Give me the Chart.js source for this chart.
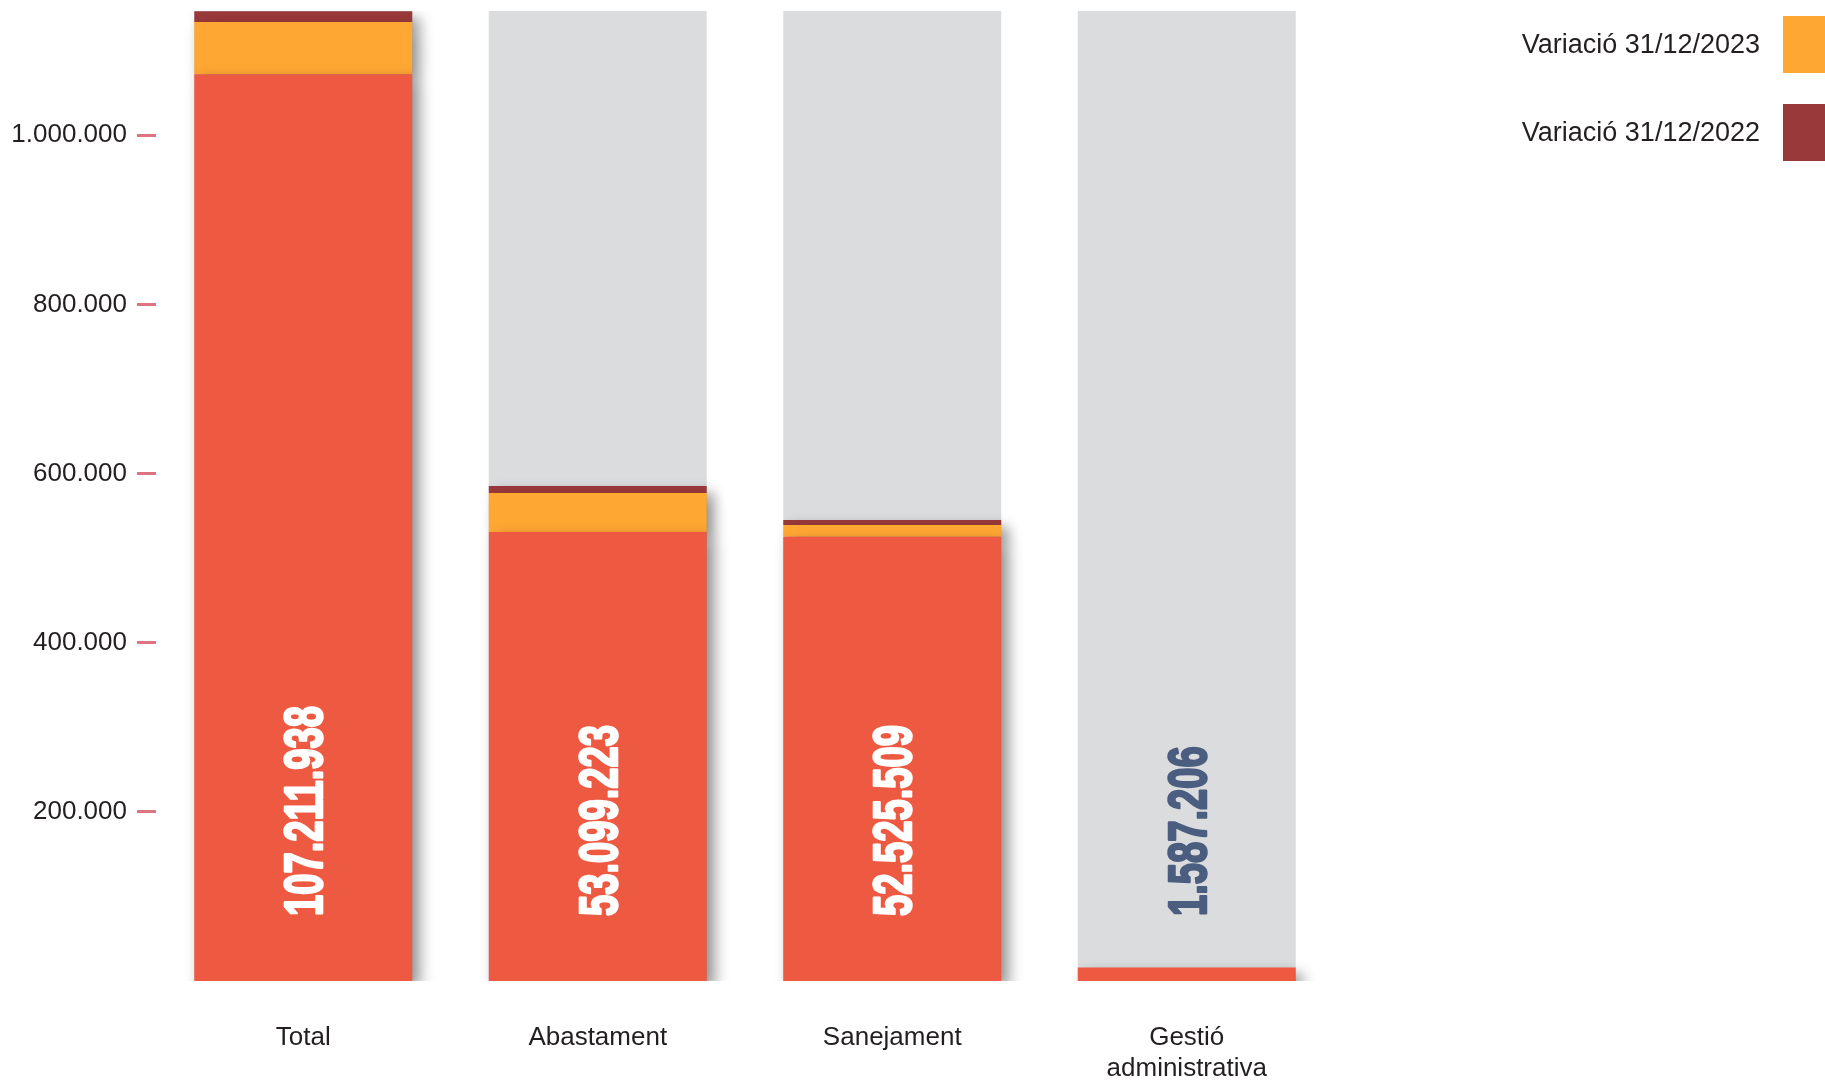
<!DOCTYPE html>
<html>
<head>
<meta charset="utf-8">
<script src="https://cdn.jsdelivr.net/npm/chart.js@4.4.1/dist/chart.umd.min.js"></script>
<style>
  body { margin: 0; background: #ffffff; }
  #wrap { position: relative; width: 1825px; height: 1080px; }
  .legend-item { position: absolute; right: 0; height: 57px; display: flex; align-items: center;
    font-family: "Liberation Sans", Arial, sans-serif; font-size: 27px; color: #231f20; }
  .legend-item span.box { display: inline-block; width: 42px; height: 57px; margin-left: 23px; }
</style>
</head>
<body>
<div id="wrap">
  <canvas id="deuteChart"></canvas>
  <div class="legend-item" style="top:16px"><span>Variació 31/12/2023</span><span class="box" style="background:#ffa733"></span></div>
  <div class="legend-item" style="top:104px"><span>Variació 31/12/2022</span><span class="box" style="background:#99393a"></span></div>
</div>
<script>
// categories and values (y axis in hundreds of euros)
const categories = ['Total', 'Abastament', 'Sanejament', ['Gestió', 'administrativa']];
const baseValues = [1072119, 530992, 525255, 15872];
const var2023 = [62000, 46000, 14000, 0];
const var2022 = [12500, 8300, 5900, 0];
const backgroundValues = [1147000, 1147000, 1147000, 1147000];
const valueLabels = [107211938, 53099223, 52525509, 1587206];
const yTickValues = [200000, 400000, 600000, 800000, 1000000];
const yMax = 1147000;

const labelColors = ['#ffffff', '#ffffff', '#ffffff', '#4b5e80'];

function formatDots(v) {
    return String(v).replace(/\B(?=(\d{3})+(?!\d))/g, '.');
}

// soft drop shadow under the coloured stacks
const shadowPlugin = {
    id: 'barShadow',
    beforeDatasetDraw(chart, args) {
        if (args.index > 2) return;
        const ctx = chart.ctx;
        ctx.save();
        ctx.shadowColor = 'rgba(0, 0, 0, 0.45)';
        ctx.shadowBlur = 14;
        ctx.shadowOffsetX = 7;
        ctx.shadowOffsetY = 7;
    },
    afterDatasetDraw(chart, args) {
        if (args.index > 2) return;
        chart.ctx.restore();
    }
};

// vertical value labels inside each bar, squeezed like a condensed face
const valueLabelPlugin = {
    id: 'valueLabels',
    afterDatasetsDraw(chart) {
        const { ctx, chartArea } = chart;
        const meta = chart.getDatasetMeta(0);
        ctx.save();
        ctx.font = 'bold 53px "Liberation Sans", Arial, sans-serif';
        ctx.textAlign = 'left';
        ctx.textBaseline = 'alphabetic';
        ctx.lineJoin = 'round';
        ctx.lineWidth = 2.5;
        const squeeze = 210 / ctx.measureText('107.211.938').width;
        meta.data.forEach((bar, i) => {
            const text = formatDots(valueLabels[i]);
            const w = ctx.measureText(text).width;
            ctx.save();
            ctx.translate(bar.x + 19, chartArea.bottom - 65);
            ctx.rotate(-Math.PI / 2);
            ctx.fillStyle = labelColors[i];
            ctx.strokeStyle = labelColors[i];
            ctx.fillText(text, 0, 0, w * squeeze);
            ctx.strokeText(text, 0, 0, w * squeeze);
            ctx.restore();
        });
        ctx.restore();
    }
};

const ctx = document.getElementById('deuteChart').getContext('2d');

new Chart(ctx, {
    type: 'bar',
    data: {
        labels: categories,
        datasets: [
            {
                label: 'Base',
                data: baseValues,
                backgroundColor: '#ee5942',
                stack: 'main',
                order: 0
            },
            {
                label: 'Variació 31/12/2023',
                data: var2023,
                backgroundColor: '#ffa733',
                stack: 'main',
                order: 0
            },
            {
                label: 'Variació 31/12/2022',
                data: var2022,
                backgroundColor: '#99393a',
                stack: 'main',
                order: 0
            },
            {
                label: 'Fons',
                data: backgroundValues,
                backgroundColor: '#dbdcde',
                stack: 'bg',
                grouped: false,
                order: 10
            }
        ]
    },
    options: {
        responsive: true,
        maintainAspectRatio: false,
        animation: false,
        datasets: {
            bar: {
                barPercentage: 0.74,
                categoryPercentage: 1,
                borderWidth: 0
            }
        },
        layout: {
            padding: { top: 11, right: 491, left: 0, bottom: 0 }
        },
        plugins: {
            legend: { display: false },
            tooltip: { enabled: false }
        },
        scales: {
            x: {
                stacked: true,
                afterFit: (scale) => {
                    scale.height = 99;
                    scale.paddingLeft = 0;
                    scale.paddingRight = 0;
                },
                grid: { display: false, drawTicks: false },
                border: { display: false },
                ticks: {
                    padding: 42,
                    color: '#231f20',
                    font: { family: '"Liberation Sans", Arial, sans-serif', size: 26, lineHeight: 1.17 },
                    maxRotation: 0
                }
            },
            y: {
                stacked: true,
                min: 0,
                max: yMax,
                afterFit: (scale) => {
                    scale.width = 156;
                    scale.paddingTop = 0;
                    scale.paddingBottom = 0;
                },
                afterBuildTicks: (scale) => {
                    scale.ticks = yTickValues.map(v => ({ value: v }));
                },
                grid: {
                    drawOnChartArea: false,
                    drawTicks: true,
                    tickLength: 19,
                    color: '#dc7482',
                    lineWidth: 3
                },
                border: { display: false },
                ticks: {
                    padding: 10,
                    color: '#231f20',
                    font: { family: '"Liberation Sans", Arial, sans-serif', size: 26 },
                    callback: (value) => formatDots(value)
                }
            }
        }
    },
    plugins: [shadowPlugin, valueLabelPlugin]
});
</script>
</body>
</html>
